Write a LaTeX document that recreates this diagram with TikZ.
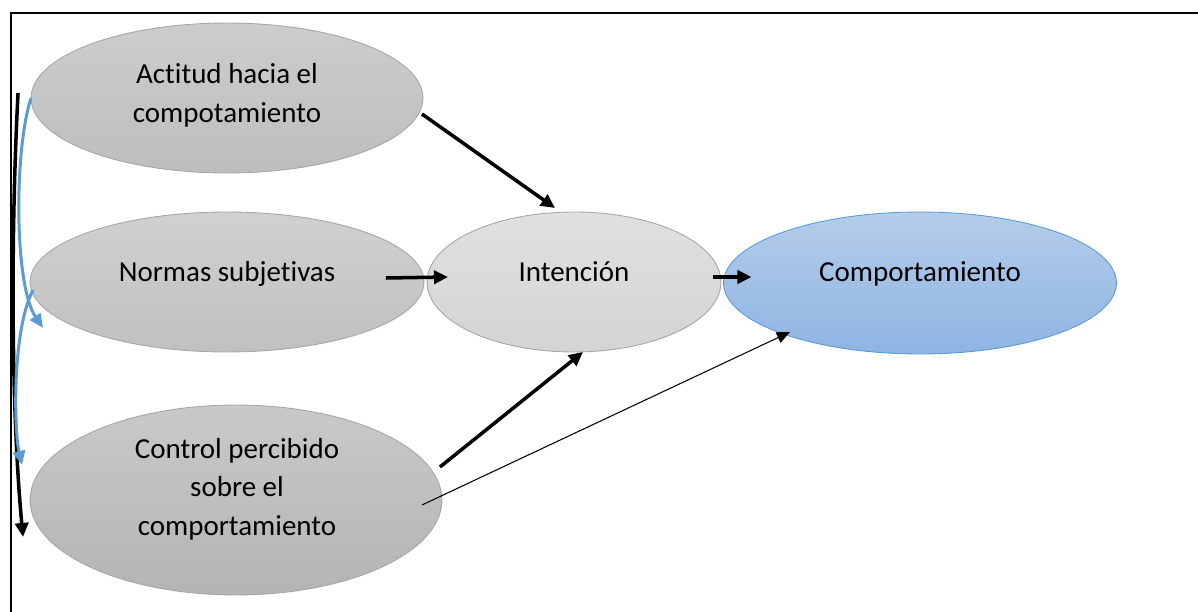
\documentclass[tikz,border=0pt]{standalone}
\usepackage{fontspec}
\setmainfont{Carlito}[Ligatures=NoCommon]
\usetikzlibrary{shapes.geometric,arrows.meta,calc}

\definecolor{actTop}{HTML}{CDCDCD}
\definecolor{actBot}{HTML}{BDBDBD}
\definecolor{norTop}{HTML}{D0D0D0}
\definecolor{norBot}{HTML}{C0C0C0}
\definecolor{intTop}{HTML}{E0E0E0}
\definecolor{intBot}{HTML}{D4D4D4}
\definecolor{conTop}{HTML}{C9C9C9}
\definecolor{conBot}{HTML}{B4B4B4}
\definecolor{comTop}{HTML}{B4CDEA}
\definecolor{comBot}{HTML}{8FB4E2}
\definecolor{comLine}{HTML}{5B9BD5}
\definecolor{ovalLine}{HTML}{A6A6A6}

\begin{document}
\begin{tikzpicture}[x=0.02cm,y=-0.02cm,
    oval/.style={ellipse,draw=ovalLine,line width=0.5pt,inner sep=0pt,outer sep=0pt},
    txt/.style={align=center,inner sep=0pt,font=\fontsize{16.5}{22}\selectfont},
    bigarrow/.style={line width=2pt,-{Triangle[length=8pt,width=7.5pt]}},
    thinarrow/.style={line width=0.6pt,-{Triangle[length=7.5pt,width=6.5pt]}},
    bluearrow/.style={draw=comLine,line width=1.7pt,-{Triangle[length=8pt,width=7pt]}}]
    \useasboundingbox (0,0) rectangle (1198,612);
    \draw[line width=1.4pt] (11,612) -- (11,13) -- (1198,13);

    \node[oval,top color=actTop,bottom color=actBot,minimum width=7.84cm,minimum height=3cm] (act) at (227,98) {};
    \node[oval,top color=norTop,bottom color=norBot,minimum width=7.88cm,minimum height=2.8cm] (nor) at (227,282) {};
    \node[oval,top color=intTop,bottom color=intBot,minimum width=5.88cm,minimum height=2.8cm] (int) at (574,282) {};
    \node[oval,draw=comLine,top color=comTop,bottom color=comBot,minimum width=7.86cm,minimum height=2.84cm] (com) at (920,283) {};
    \node[oval,top color=conTop,bottom color=conBot,minimum width=8.24cm,minimum height=3.8cm] (con) at (236,500) {};

    \node[txt] (actText) at (227,95) {Actitud hacia el\\compotamiento};
    \node[txt] (norText) at (227,274) {Normas subjetivas};
    \node[txt] (intText) at (574,272) {Intención};
    \node[txt] (comText) at (920,274) {Comportamiento};
    \node[txt] (conText) at (237,489) {Control percibido\\sobre el\\comportamiento};

    \draw[bigarrow] ($(act.east)+(-1,16)$) -- ($(int.north)+(-19,-4)$);
    \draw[bigarrow] ($(nor.east)+(-38,-4)$) -- ($(int.west)+(21,-5)$);
    \draw[bigarrow] ($(int.east)+(-8,-5)$) -- ($(com.west)+(28,-6)$);
    \draw[bigarrow] ($(con.east)+(-2,-33)$) -- ($(int.south)+(9,0)$);
    \draw[thinarrow] ($(con.east)+(-20,5)$) -- ($(com.south)+(-130,-22)$);

    \draw[bigarrow] ($(act.west)+(-13,-5)$) .. controls (10,250) and (12,420) .. ($(con.west)+(-7,37)$);
    \draw[bluearrow] (act.west) .. controls (14,150) and (14,285) .. ($(nor.west)+(13,46)$);
    \draw[bluearrow] ($(nor.west)+(3,8)$) .. controls (12,330) and (14,430) .. ($(con.west)+(-8,-35)$);
\end{tikzpicture}
\end{document}
